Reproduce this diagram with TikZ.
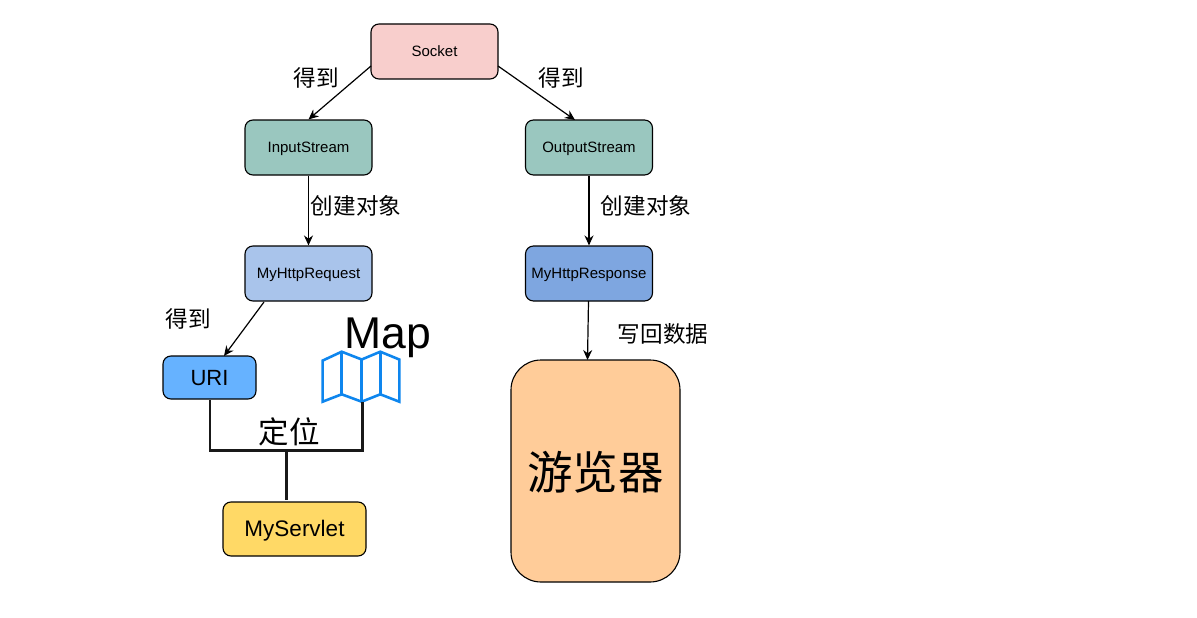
\documentclass[tikz,border=0pt]{standalone}
\usepackage{xcolor}
\usepackage{fontspec}
\setmainfont{Liberation Sans}
\newfontfamily\cjk{Noto Sans CJK SC}
\usetikzlibrary{arrows.meta, positioning}
\definecolor{socketRed}{HTML}{F8CECC}
\definecolor{streamGreen}{HTML}{9AC7BF}
\definecolor{requestBlue}{HTML}{A9C4EB}
\definecolor{responseBlue}{HTML}{7EA6E0}
\definecolor{uriBlue}{HTML}{66B2FF}
\definecolor{servletYellow}{HTML}{FFD966}
\definecolor{browserOrange}{HTML}{FFCC99}
\definecolor{mapBlue}{HTML}{0E86EE}
\tikzset{
  box/.style={draw=black, rounded corners=8pt, line width=1.1pt, inner sep=0pt, text height=10.5pt, text depth=0pt, font=\fontsize{15}{17}\selectfont},
  link/.style={-{Stealth[length=10pt,width=9pt]}, line width=1.2pt},
  tree/.style={line width=2.8pt, color=black!90},
  tag/.style={font=\cjk\fontsize{22.6}{26}\selectfont, inner sep=0pt}
}
\begin{document}
\begin{tikzpicture}[x=1pt,y=-1pt]
  \useasboundingbox (0,0) rectangle (1197,618);

  \node[box, fill=socketRed, minimum width=127pt, minimum height=55pt] (socket) at (434.5,51.5) {Socket};
  \node[box, fill=streamGreen, minimum width=127pt, minimum height=55pt] (input) at (308.5,147.5) {InputStream};
  \node[box, fill=streamGreen, minimum width=127pt, minimum height=55pt] (output) at (589,147.5) {OutputStream};
  \node[box, fill=requestBlue, minimum width=127pt, minimum height=55pt] (request) at (308.5,273.5) {MyHttpRequest};
  \node[box, fill=responseBlue, minimum width=127pt, minimum height=55pt] (response) at (589,273.5) {MyHttpResponse};
  \node[box, fill=uriBlue, minimum width=93pt, minimum height=43pt, text height=15pt, font=\fontsize{22}{26}\selectfont] (uri) at (209.5,377.5) {URI};
  \node[box, fill=servletYellow, minimum width=143pt, minimum height=54pt, text height=15pt, font=\fontsize{22.5}{26}\selectfont] (servlet) at (294.5,529) {MyServlet};
  \node[box, fill=browserOrange, rounded corners=30pt, minimum width=169pt, minimum height=222pt, text height=36pt, font=\cjk\fontsize{45.5}{50}\selectfont] (browser) at (595.5,471) {游览器};

  \coordinate (socketL) at (371,66);
  \coordinate (socketR) at (498,66);
  \coordinate (outputT) at (575,120);
  \coordinate (requestB) at (264,302);
  \coordinate (uriT) at (224,356);
  \coordinate (responseB) at (588.5,301);
  \coordinate (browserT) at (587.5,360);
  \draw[link] (socketL) -- (input.north);
  \draw[link] (socketR) -- (outputT);
  \draw[link] (input) -- (request);
  \draw[link] (output) -- (response);
  \draw[link] (requestB) -- (uriT);
  \draw[link] (responseB) -- (browserT);

  \node[tag] (getL) at (316,78) {得到};
  \node[tag] (getR) at (561,78) {得到};
  \node[tag] (newL) at (356,206) {创建对象};
  \node[tag] (newR) at (646,206) {创建对象};
  \node[tag] (getUri) at (188,319) {得到};
  \node[tag] (writeBack) at (663,334) {写回数据};
  \node[tag, font=\cjk\fontsize{30.5}{34}\selectfont] (locate) at (289,432) {定位};
  \node[inner sep=0pt, font=\fontsize{44.5}{50}\selectfont] (mapTag) at (388,338) {Map};

  % folded map icon
  \draw[mapBlue, line width=2.6pt, line join=miter]
    (322.6,360.6) -- (341.7,351.7) -- (361.7,359.5) -- (380.3,351.7) -- (399.3,359.5)
    -- (399.3,401.7) -- (380.3,394.3) -- (361.7,401.7) -- (341.7,394.3) -- (322.6,401.7) -- cycle;
  \draw[mapBlue, line width=2.6pt] (341.7,351.7) -- (341.7,394.3);
  \draw[mapBlue, line width=2.6pt] (361.7,359.5) -- (361.7,401.7);
  \draw[mapBlue, line width=2.6pt] (380.3,351.7) -- (380.3,394.3);

  \coordinate (mapB) at (362.5,402);
  \coordinate (uriB) at (210,400);
  \coordinate (joinL) at (210,450.5);
  \coordinate (joinR) at (362.5,450.5);
  \coordinate (joinM) at (286.5,450.5);
  \coordinate (servletT) at (286.5,500);
  \draw[tree] (uriB) -- (joinL) -- (joinR) -- (mapB);
  \draw[tree] (joinM) -- (servletT);
\end{tikzpicture}
\end{document}
